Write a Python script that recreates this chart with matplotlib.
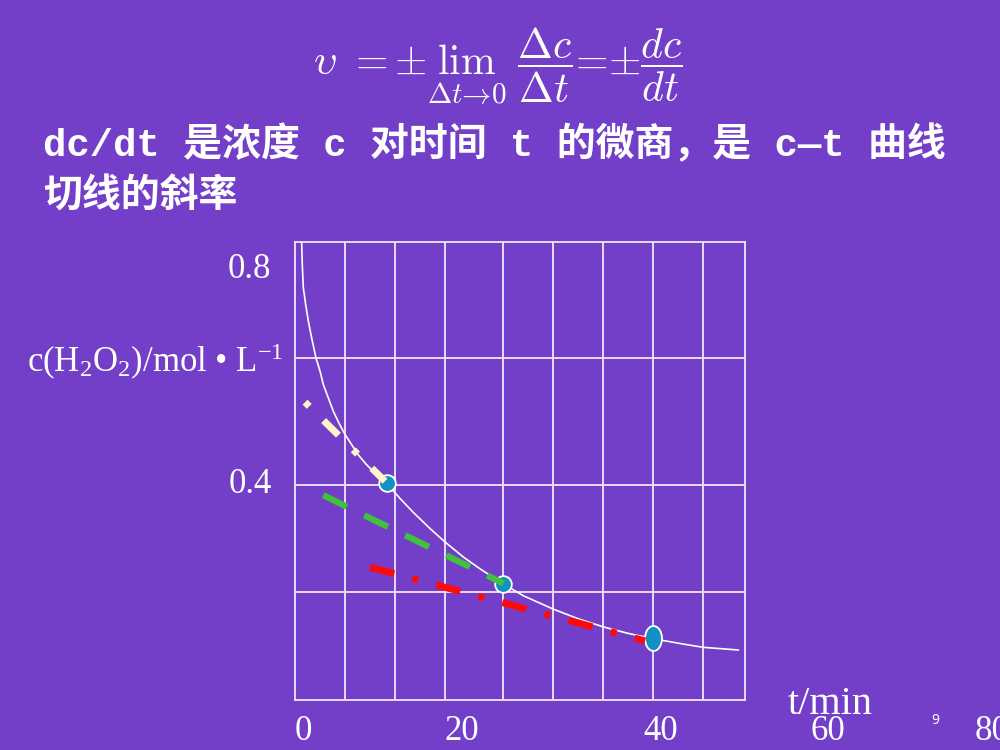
import matplotlib
matplotlib.use("Agg")
import matplotlib.pyplot as plt
import matplotlib.path as mpath
import numpy as np

# c-t curve of H2O2 decomposition (t in min, c in mol/L)
curve_t = [0.77, 0.84, 0.96, 1.24, 1.54, 1.93, 2.43, 2.89, 3.27, 3.85, 4.43,
           5.08, 5.78, 6.55, 7.31, 8.20, 9.05, 10.02, 10.60, 12.13, 13.67,
           15.60, 17.33, 19.45, 21.38, 24.07, 26.38, 29.85, 32.74, 35.63,
           38.48, 41.40, 44.87, 47.18, 51.22]
curve_c = [0.851, 0.810, 0.767, 0.735, 0.705, 0.673, 0.636, 0.612, 0.587, 0.562, 0.537,
           0.515, 0.494, 0.475, 0.456, 0.439, 0.425, 0.412, 0.403, 0.375, 0.349,
           0.319, 0.294, 0.266, 0.244, 0.216, 0.194, 0.169, 0.151, 0.136,
           0.124, 0.114, 0.104, 0.098, 0.093]

# points where tangents are taken
point_t = [10.60, 24.08, 41.39]
point_c = [0.403, 0.216, 0.115]

# tangent segments (start, end)
tan1_t = [1.16, 10.40]
tan1_c = [0.554, 0.407]
tan2_t = [3.27, 24.08]
tan2_c = [0.381, 0.217]
tan3_t = [8.67, 40.46]
tan3_c = [0.247, 0.110]

# grid lines as drawn on the slide
grid_t = [5.8, 11.6, 17.3, 24.0, 29.8, 35.6, 41.4, 47.2]
grid_c = [0.2, 0.4, 0.636]

# axis labels (the slide prints them slightly off the grid)
x_labels = ["0", "20", "40", "60", "80"]
x_label_pos = [1.0, 19.3, 42.3, 61.6, 80.6]
y_labels = ["0.8", "0.4"]
y_label_pos = [0.8, 0.4]

bg = "#733FC9"
fg = "white"
grid_col = "#F2E6FF"

plt.rcParams["mathtext.fontset"] = "custom"
plt.rcParams["mathtext.rm"] = "Liberation Serif"
plt.rcParams["mathtext.it"] = "Liberation Serif:italic"

fig = plt.figure(figsize=(10, 7.5), dpi=100, facecolor=bg)
ax = fig.add_axes([0.295, 1 - 700 / 750, 0.45, (700 - 242) / 750])
ax.set_facecolor(bg)
ax.set_xlim(0, 52.0)
ax.set_ylim(0, 0.852)
for s in ax.spines.values():
    s.set_color(grid_col)
    s.set_linewidth(1.3)
ax.set_xticks(grid_t)
ax.set_yticks(grid_c)
ax.tick_params(length=0, labelbottom=False, labelleft=False)
ax.grid(True, color=grid_col, linewidth=1.3)

ax.plot(curve_t, curve_c, color=fg, linewidth=1.2, zorder=3)

# teal markers
ax.plot(point_t[:2], point_c[:2], "o", ms=12, mfc="#1391C2", mec=fg, mew=1.3, zorder=4)
ell = mpath.Path.unit_circle()
ell = mpath.Path(ell.vertices * np.array([0.68, 1.0]), ell.codes)
ax.plot(point_t[2:], point_c[2:], marker=ell, ms=18, mfc="#1391C2", mec=fg,
        mew=1.3, linestyle="none", zorder=4)

# tangent lines
ax.plot(tan1_t, tan1_c, color="#FFF7C8", linewidth=5, dashes=[0.86, 2.9, 3.0, 3.0],
        dash_capstyle="butt", zorder=5)
ax.plot(tan2_t, tan2_c, color="#3FC33C", linewidth=4.5, dashes=[4.2, 3.1],
        dash_capstyle="butt", zorder=5)
ax.plot(tan3_t, tan3_c, color="#FF0A0A", linewidth=5, dashes=[3.6, 2.7, 0.86, 2.7],
        dash_capstyle="butt", zorder=5)

# labels
for lab, pos in zip(x_labels, x_label_pos):
    ax.text(pos, -0.058, lab, color=fg, fontsize=25, family="Liberation Serif",
            ha="center", va="center", clip_on=False)
for lab, pos in zip(y_labels, y_label_pos):
    ax.text(-0.052, pos, lab, color=fg, fontsize=25, family="Liberation Serif",
            ha="right", va="center", clip_on=False, transform=ax.get_yaxis_transform())
fig.text(0.027, 1 - 362 / 750, r"c(H$_2$O$_2$)/mol • L$^{-1}$", color=fg,
         fontsize=25, family="Liberation Serif", ha="left", va="center")
fig.text(0.788, 1 - 704 / 750, "t/min", color=fg, fontsize=29,
         family="Liberation Serif", ha="left", va="center")
fig.text(0.935, 1 - 720 / 750, "9", color=fg, fontsize=10, family="Noto Sans",
         ha="center", va="center")

# formula and description
fig.text(0.313, 1 - 66 / 750,
         r"$\upsilon\ =\pm\lim_{\Delta t\rightarrow 0}\ \dfrac{\Delta c}{\Delta t}=\pm\dfrac{dc}{dt}$",
         color=fg, fontsize=30, math_fontfamily="cm", ha="left", va="center")
title_font = ["Liberation Mono", "Noto Sans CJK SC"]
fig.text(0.043, 1 - 145 / 750, "dc/dt 是浓度 c 对时间 t 的微商，是 c—t 曲线",
         color=fg, fontsize=28, family=title_font, weight="bold", ha="left", va="center")
fig.text(0.043, 1 - 197 / 750, "切线的斜率", color=fg, fontsize=28,
         family=title_font, weight="bold", ha="left", va="center")

fig.savefig("out.png", dpi=100, facecolor=bg)
